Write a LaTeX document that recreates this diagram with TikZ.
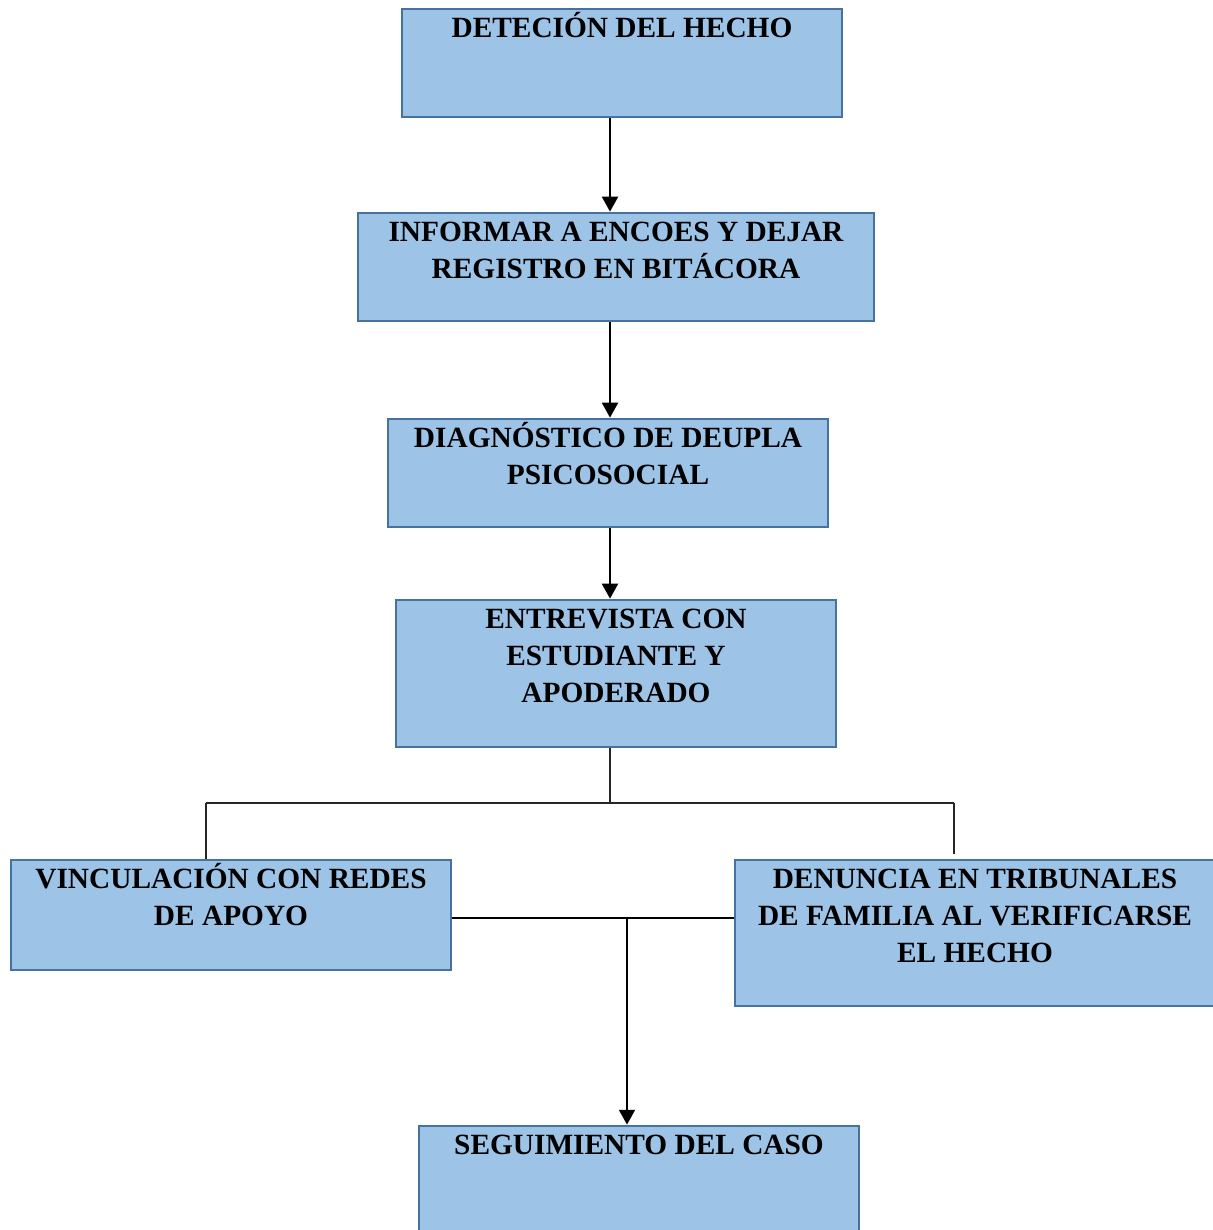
\documentclass[tikz,border=0pt]{standalone}
\usepackage{fontspec}
\setmainfont{Liberation Serif}
\usetikzlibrary{positioning}
\usetikzlibrary{arrows.meta}

\definecolor{rellenoazul}{RGB}{157,195,230}
\definecolor{bordeazul}{RGB}{70,114,160}
\newcommand{\alto}{\rule{0pt}{15.5pt}}

\tikzset{
  caja/.style={rectangle,draw=bordeazul,line width=1.5pt,fill=rellenoazul,minimum width=8.8cm,minimum height=2.16cm},
  texto/.style={inner sep=0pt,align=center,font=\fontsize{16.7}{21}\selectfont\bfseries},
  flecha/.style={line width=1.4pt,-{Triangle[width=9pt,length=8.5pt]}},
  linea/.style={line width=0.7pt,black!85}
}

\begin{document}
\begin{tikzpicture}
\useasboundingbox (0,0) rectangle (24.24,-24.6);

% cajas
\node[caja] (b1) at (12.44,-1.26) {};
\node[caja,minimum width=10.32cm] (b2) at (12.32,-5.34) {};
\node[caja] (b3) at (12.16,-9.46) {};
\node[caja,minimum height=2.94cm] (b4) at (12.32,-13.47) {};
\node[caja,minimum height=2.2cm] (b5) at (4.62,-18.3) {};
\node[caja,minimum width=9.68cm,minimum height=2.92cm] (b6) at (19.54,-18.66) {};
\node[caja] (b7) at (12.78,-23.6) {};

% textos
\node[texto,below=1.5pt of b1.north] (t1) {\alto DETECIÓN DEL HECHO};
\node[texto,below=1.5pt of b2.north] (t2) {\alto INFORMAR A ENCOES Y DEJAR\\REGISTRO EN BITÁCORA};
\node[texto,below=1.5pt of b3.north] (t3) {\alto DIAGNÓSTICO DE DEUPLA\\PSICOSOCIAL};
\node[texto,below=1.5pt of b4.north] (t4) {\alto ENTREVISTA CON\\ESTUDIANTE Y\\APODERADO};
\node[texto,below=1.5pt of b5.north] (t5) {\alto VINCULACIÓN CON REDES\\DE APOYO};
\node[texto,below=1.5pt of b6.north,xshift=-0.04cm] (t6) {\alto DENUNCIA EN TRIBUNALES\\DE FAMILIA AL VERIFICARSE\\EL HECHO};
\node[texto,below=1.5pt of b7.north] (t7) {\alto SEGUIMIENTO DEL CASO};

% flechas
\draw[flecha] (b1.south -| 12.2,0) -- (b2.north -| 12.2,0);
\draw[flecha] (b2.south -| 12.2,0) -- (b3.north -| 12.2,0);
\draw[flecha] (b3.south -| 12.2,0) -- (b4.north -| 12.2,0);

% ramas
\coordinate (split) at (12.2,-16.06);
\coordinate (lbr) at (4.12,-16.06);
\coordinate (rbr) at (19.08,-16.06);
\draw[linea] (b4.south -| split) -- (split);
\draw[linea] (lbr) -- (rbr);
\draw[linea] (lbr) -- (lbr |- b5.north);
\draw[linea] (rbr) -- ([yshift=0.1cm]rbr |- b6.north);

% union
\coordinate (join) at (12.54,-18.36);
\draw[linea,line width=0.9pt,black] (b5.east |- join) -- (b6.west |- join);
\draw[flecha] (join) -- (join |- b7.north);

\end{tikzpicture}
\end{document}
